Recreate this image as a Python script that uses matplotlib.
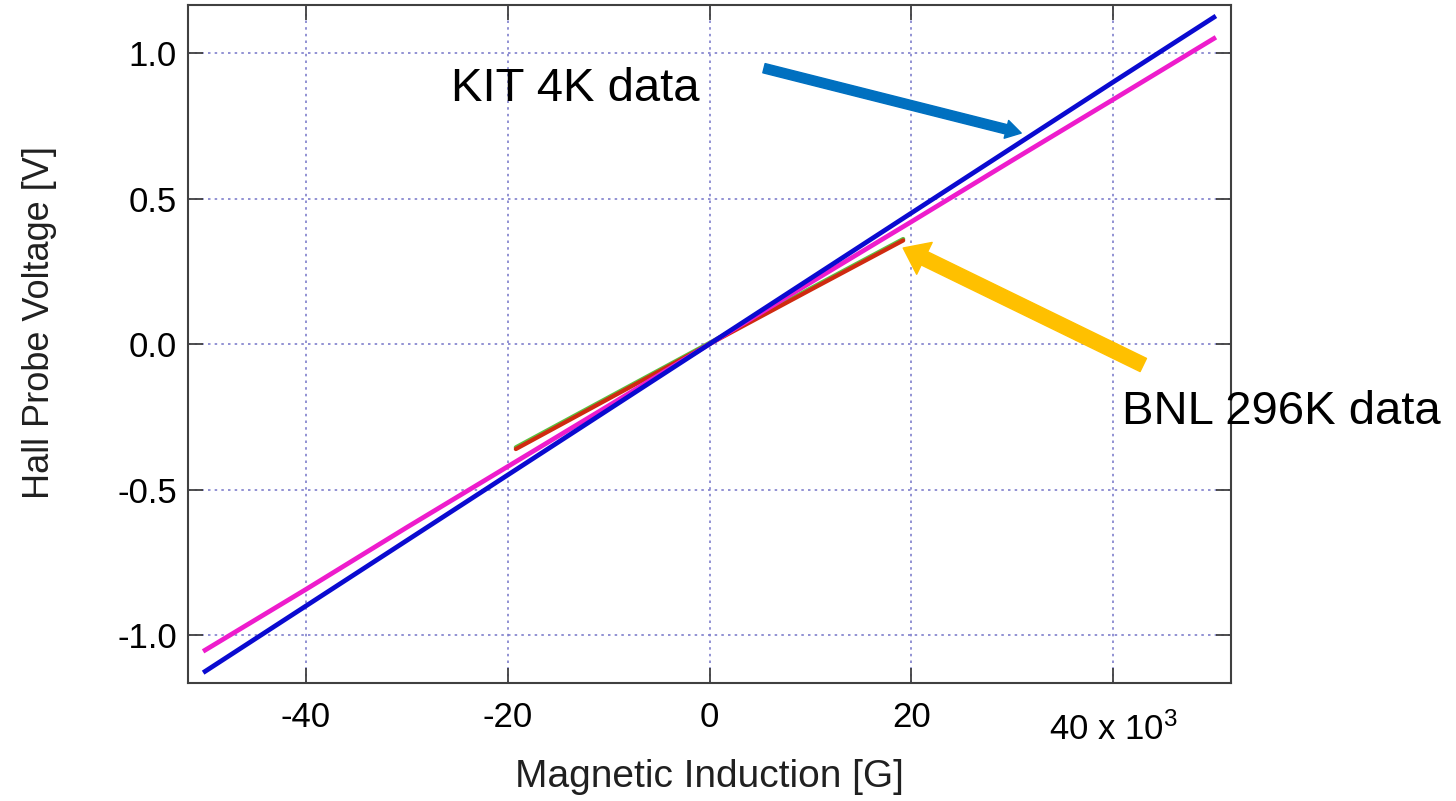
import numpy as np
import matplotlib
matplotlib.use("Agg")
import matplotlib.pyplot as plt

plt.rcParams['font.family'] = ['Liberation Sans', 'DejaVu Sans']
plt.rcParams['mathtext.fontset'] = 'custom'
plt.rcParams['mathtext.rm'] = 'Liberation Sans'
plt.rcParams['mathtext.it'] = 'Liberation Sans'

# magnetic induction [kG] and hall probe voltage [V]
field_kit = [-50, -40, -30, -20, -10, 0, 10, 20, 30, 40, 50]
volt_kit_blue = [-1.125, -0.90, -0.675, -0.45, -0.225, 0.0, 0.225, 0.45, 0.675, 0.90, 1.123]
volt_kit_magenta = [-1.052, -0.843, -0.630, -0.421, -0.212, 0.0, 0.211, 0.420, 0.631, 0.840, 1.050]

field_bnl = [-19.2, -10, 0, 10, 19.2]
volt_bnl_red = [-0.361, -0.188, 0.0, 0.186, 0.356]
volt_bnl_green = [-0.355, -0.183, 0.004, 0.191, 0.361]

xticks = [-40, -20, 0, 20, 40]
xticklabels = ['-40', '-20', '0', '20', '']
yticks = [-1.0, -0.5, 0.0, 0.5, 1.0]
yticklabels = ['-1.0', '-0.5', '0.0', '0.5', '1.0']

fig = plt.figure(figsize=(14.56, 8.01), dpi=100)
ax = fig.add_axes([0.1291, 0.1473, 0.7164, 0.8464])

ax.plot(field_bnl, volt_bnl_green, color='#5cc040', lw=3, solid_capstyle='round')
ax.plot(field_bnl, volt_bnl_red, color='#d02a10', lw=3, solid_capstyle='round')
ax.plot(field_kit, volt_kit_magenta, color='#ee1ccc', lw=3.4)
ax.plot(field_kit, volt_kit_blue, color='#0a0ad0', lw=3.4)

ax.set_xlim(-51.7, 51.7)
ax.set_ylim(-1.165, 1.165)
ax.set_xticks(xticks)
ax.set_xticklabels(xticklabels)
ax.set_yticks(yticks)
ax.set_yticklabels(yticklabels)

ax.grid(True, color='#7f7fcc', linestyle=(0, (1.5, 2.5)), lw=1.2)
ax.tick_params(direction='in', length=11, width=1.3, color='#404040',
               top=True, right=True, labelsize=25)
ax.tick_params(axis='x', pad=13)
ax.tick_params(axis='y', pad=8)
for s in ax.spines.values():
    s.set_color('#404040')
    s.set_linewidth(1.5)

# last x tick label sits lower, with the multiplier
ax.text(40, -0.069, r'40 x 10$^{3}$', fontsize=25, ha='center', va='center',
        transform=ax.get_xaxis_transform())

ax.set_xlabel('Magnetic Induction [G]', fontsize=28, color='#202020', labelpad=18)
ax.set_ylabel('Hall Probe Voltage [V]', fontsize=26, color='#202020')
ax.yaxis.set_label_coords(-0.142, 0.532)
ax.yaxis.label.set_verticalalignment('center')

# annotations
ax.text(-25.6, 0.875, 'KIT 4K data', fontsize=34, va='center', ha='left', clip_on=False)
ax.text(40.9, -0.234, 'BNL 296K data', fontsize=34, va='center', ha='left', clip_on=False)
ax.annotate('', xy=(30.9, 0.725), xytext=(5.4, 0.948), annotation_clip=False,
            arrowprops=dict(arrowstyle='simple,head_length=1.0,head_width=1.2,tail_width=0.62',
                            mutation_scale=11, color='#0070c0', shrinkA=0, shrinkB=0))
ax.annotate('', xy=(19.2, 0.330), xytext=(43.0, -0.072), annotation_clip=False,
            arrowprops=dict(arrowstyle='simple,head_length=1.0,head_width=1.5,tail_width=0.62',
                            mutation_scale=17, color='#ffc000', shrinkA=0, shrinkB=0))

fig.savefig('out.png', dpi=100, facecolor='white')
